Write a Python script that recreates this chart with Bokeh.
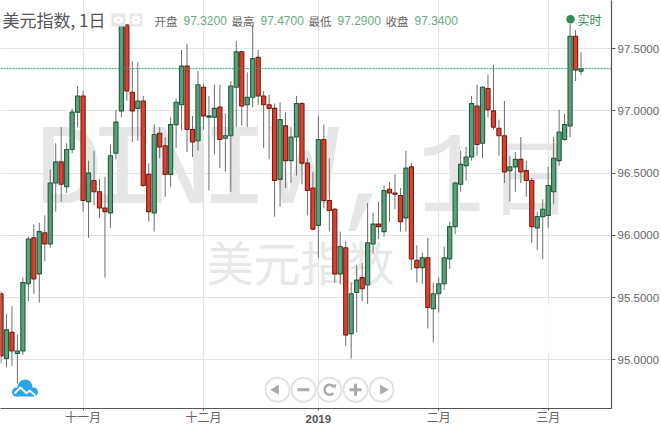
from bokeh.plotting import figure
from bokeh.embed import file_html
from bokeh.resources import INLINE
from bokeh.models import Range1d, FixedTicker, NumeralTickFormatter, Span, LinearAxis
from bokeh.core.properties import value

opens = [95.53,95.01,95.22,95.05,95.07,95.61,95.98,95.69,96.02,95.93,96.42,96.59,96.39,96.69,96.99,97.12,96.27,96.44,96.35,96.22,
         96.18,96.66,97.00,97.69,97.15,97.02,97.08,96.49,96.18,96.82,96.72,96.49,96.89,97.05,97.36,96.85,96.76,97.19,96.95,96.95,
         97.03,96.78,96.80,97.19,97.475,97.05,97.11,97.43,97.12,97.05,97.02,96.45,96.88,96.60,96.79,97.06,96.58,96.38,96.08,96.77,
         96.28,96.21,95.69,95.90,95.21,95.54,95.66,95.60,95.93,96.09,96.03,96.37,96.34,96.32,96.14,96.55,95.80,95.74,95.82,95.41,
         95.53,95.61,95.81,96.07,96.41,96.56,96.63,97.04,96.74,97.18,97.00,96.86,96.80,96.52,96.55,96.61,96.52,96.44,96.06,96.15,
         96.16,96.35,96.60,96.77,96.88,97.60,97.32]
highs = [95.55,95.37,95.43,95.20,95.66,95.99,96.09,96.10,96.16,96.53,96.74,96.87,96.74,97.02,97.20,97.16,96.60,96.68,96.45,96.47,
         96.73,97.01,97.70,97.70,97.40,97.39,97.12,96.58,96.89,96.87,96.79,96.95,97.10,97.49,97.54,96.96,97.32,97.22,97.12,97.21,
         97.21,96.98,97.24,97.56,97.48,97.31,97.69,97.49,97.16,97.13,97.06,97.07,96.99,96.87,97.12,97.07,96.62,96.51,96.96,96.89,
         96.62,96.22,96.03,95.95,95.62,95.76,95.78,96.26,96.18,96.27,96.40,96.43,96.49,96.38,96.68,96.58,95.92,95.86,95.98,95.62,
         95.66,95.91,96.11,96.43,96.68,96.71,97.12,97.21,97.20,97.29,97.37,96.93,97.08,96.64,96.67,96.79,96.60,96.46,96.19,96.29,
         96.55,96.79,97.01,96.98,97.70,97.65,97.47]
lows = [94.97,94.94,94.95,94.81,95.04,95.47,95.53,95.46,95.79,95.90,96.19,96.27,96.34,96.66,96.87,96.19,95.98,96.24,96.14,95.66,
        96.06,96.61,96.95,97.08,96.75,96.76,96.39,96.11,96.03,96.62,96.31,96.39,96.70,96.84,96.67,96.63,96.68,96.85,96.36,96.65,
        96.54,96.51,96.35,96.87,96.88,96.87,97.03,97.05,96.70,96.61,96.15,96.23,96.38,96.42,96.48,96.41,96.16,96.04,95.82,96.22,
        96.03,95.62,95.61,95.11,95.01,95.22,95.47,95.45,95.85,95.97,95.99,96.11,96.21,96.03,96.03,95.72,95.62,95.61,95.25,95.14,
        95.38,95.56,95.73,96.01,96.35,96.44,96.60,96.64,96.62,96.95,96.85,96.64,96.42,96.27,96.35,96.42,96.31,95.94,95.88,95.81,
        96.06,96.25,96.56,96.76,96.79,97.24,97.29]
closes = [95.03,95.24,95.07,95.07,95.62,95.97,95.65,96.03,95.93,96.42,96.59,96.41,96.69,96.99,97.12,96.28,96.50,96.35,96.22,96.19,
          96.64,96.91,97.69,97.16,97.00,97.08,96.40,96.19,96.81,96.71,96.49,96.89,97.07,97.36,96.85,96.75,97.21,96.96,96.96,97.02,
          96.77,96.80,97.20,97.475,97.04,97.11,97.42,97.12,97.05,97.02,96.44,96.93,96.60,96.79,97.06,96.58,96.36,96.05,96.77,96.28,
          96.20,95.69,95.91,95.20,95.53,95.64,95.57,95.94,96.09,96.07,96.36,96.34,96.33,96.11,96.54,95.81,95.74,95.82,95.42,95.53,
          95.61,95.82,96.07,96.42,96.57,96.63,97.06,96.73,97.19,97.01,96.87,96.80,96.51,96.55,96.61,96.51,96.44,96.07,96.15,96.21,
          96.40,96.62,96.83,96.89,97.60,97.33,97.34]

y_ticks = [95.0, 95.5, 96.0, 96.5, 97.0, 97.5]
month_ticks = {15: "十一月", 37: "十二月", 58: " ", 80: "二月", 100: "三月"}
year_tick = {58: "2019"}
last_price = 97.34
title_text = "美元指数, 1日"
header_labels = ["开盘", "最高", "最低", "收盘"]
header_values = ["97.3200", "97.4700", "97.2900", "97.3400"]

GREEN_F, GREEN_L = "#5f9f7c", "#1b5c3d"
RED_F, RED_L = "#d8432f", "#7b1a12"
CJK = "Noto Sans CJK SC"

idx = list(range(len(opens)))
fills = [GREEN_F if c >= o else RED_F for o, c in zip(opens, closes)]
lines = [GREEN_L if c >= o else RED_L for o, c in zip(opens, closes)]

p = figure(width=661, height=425, frame_width=611, frame_height=408,
           x_range=Range1d(-0.0914, 111.57), y_range=Range1d(94.6078, 97.8875),
           y_axis_location="right", output_backend="svg", toolbar_location=None,
           min_border=0, min_border_right=50, min_border_bottom=17,
           background_fill_color="white", border_fill_color="white")
p.margin = (0, 0, 0, 0)
p.outline_line_color = None
p.extra_x_ranges["px"] = Range1d(0, 611)
p.extra_y_ranges["px"] = Range1d(408, 0)
PX = dict(x_range_name="px", y_range_name="px")

# axes
p.xaxis.ticker = FixedTicker(ticks=list(month_ticks))
p.xaxis.major_label_overrides = month_ticks
p.yaxis.ticker = FixedTicker(ticks=y_ticks)
p.yaxis.formatter = NumeralTickFormatter(format="0.0000")
for ax in (p.xaxis[0], p.yaxis[0]):
    ax.axis_line_color = "#555555"
    ax.axis_line_width = 1.2
    ax.major_tick_line_color = "#555555"
    ax.minor_tick_line_color = None
    ax.major_tick_in = 0
    ax.major_label_text_color = "#666666"
    ax.major_label_text_font_size = "11.5px"
    ax.major_label_text_font = "Liberation Sans"
p.xaxis.major_tick_out = 2
p.yaxis.major_tick_out = 4
p.xaxis.major_label_standoff = -3
p.xaxis.major_label_text_font = CJK
p.xaxis.major_label_text_font_size = "12px"
p.yaxis.major_label_standoff = 2
year_axis = LinearAxis(ticker=FixedTicker(ticks=list(year_tick)), major_label_overrides=year_tick,
                       axis_line_color=None, major_tick_line_color=None, minor_tick_line_color=None,
                       major_tick_out=0, major_tick_in=0, major_label_standoff=-13,
                       major_label_text_font="Liberation Sans", major_label_text_font_style="bold",
                       major_label_text_font_size="11.5px", major_label_text_color="#555555")
p.add_layout(year_axis, "below")
p.grid.grid_line_color = "#e3e3e3"
p.grid.grid_line_width = 1.2

# watermarks
wm_chars = ["D", "I", "N", "I", "W", ","]
wm_x = [68, 122, 177, 234, 304, 368]
p.text(x=wm_x, y=[172] * len(wm_chars), text=wm_chars, text_font=value("Liberation Mono"),
       text_font_size="115px", text_color="#e6e6e6", text_align="center", text_baseline="middle", **PX)
p.text(x=[450], y=[172], text=["1"], text_font=value("Liberation Mono"), text_font_size="115px",
       text_color="#e6e6e6", text_align="center", text_baseline="middle", **PX)
p.text(x=[530], y=[172], text=["日"], text_font=value(CJK), text_font_size="84px",
       text_color="#e6e6e6", text_align="center", text_baseline="middle", **PX)
p.text(x=[300], y=[260], text=["美元指数"], text_font=value(CJK), text_font_size="47px",
       text_color="#e8e8e8", text_align="center", text_baseline="middle", **PX)

# gap seen in the March gridline
p.segment([547.5], [303], [547.5], [353], line_color="white", line_width=3, **PX)

# candles
bottoms = [min(o, c) for o, c in zip(opens, closes)]
tops = [max(o, c) for o, c in zip(opens, closes)]
p.segment(idx, highs, idx, lows, line_color="#6e6e6e", line_width=1)
p.vbar(x=idx, width=0.76, bottom=bottoms, top=tops, fill_color=fills, line_color=lines, line_width=1.1)

# last price
p.add_layout(Span(location=last_price, dimension="width", line_color="#3f9a6d", line_width=1, line_dash="2 1"))

# header
p.text(x=[2], y=[19], text=[title_text], text_font=value(CJK), text_font_size="17px",
       text_color="#555555", text_baseline="middle", **PX)
p.text(x=[154, 231, 308, 385], y=[20] * 4, text=header_labels, text_font=value(CJK), text_font_size="11.5px",
       text_color="#666666", text_baseline="middle", **PX)
p.text(x=[183, 260, 337, 414], y=[20] * 4, text=header_values, text_font=value("Liberation Sans"),
       text_font_size="12px", text_color="#6aa987", text_baseline="middle", **PX)

# eye / gear icons
p.quad(left=[111, 129], right=[125, 142], top=[13, 13], bottom=[26, 26], fill_color="#e6e6e6", line_color=None, **PX)
p.ellipse(x=[118], y=[19.5], width=10, height=7, fill_color="white", line_color=None, **PX)
p.scatter(x=[118], y=[19.5], size=3, marker="circle", fill_color="#e6e6e6", line_color=None, **PX)
p.scatter(x=[135.5], y=[19.5], size=10, marker="asterisk", line_color="white", line_width=2, **PX)
p.scatter(x=[135.5], y=[19.5], size=7, marker="circle", fill_color="white", line_color=None, **PX)
p.scatter(x=[135.5], y=[19.5], size=3, marker="circle", fill_color="#e6e6e6", line_color=None, **PX)

# realtime marker
p.scatter(x=[570], y=[18.7], size=8.5, marker="circle", fill_color="#2e8b57", line_color=None, **PX)
p.text(x=[577], y=[19], text=["实时"], text_font=value(CJK), text_font_size="12px", text_color="#2e8b57",
       text_baseline="middle", **PX)

# cloud logo
LOGO = "#29a5e8"
p.scatter(x=[16, 24.5, 33], y=[391.5, 386.5, 391.5], size=[9, 15, 9], marker="circle", fill_color=LOGO, line_color=None, **PX)
p.quad(left=[16], right=[33], top=[388], bottom=[396], fill_color=LOGO, line_color=None, **PX)
p.line(x=[14, 20, 26, 29, 35], y=[393, 387, 393, 390, 395], line_color="white", line_width=1.8, **PX)

# navigation buttons
btn_x = [277, 303, 329, 355, 381]
p.scatter(x=btn_x, y=[389.3] * 5, size=24, marker="circle", fill_color="white", fill_alpha=0.9,
          line_color="#e2e2e2", line_width=2, **PX)
ICON = "#aaaaaa"
p.scatter(x=[275.5], y=[389.3], size=10, marker="triangle", angle=1.5708, fill_color=ICON, line_color=None, **PX)
p.scatter(x=[382.5], y=[389.3], size=10, marker="triangle", angle=-1.5708, fill_color=ICON, line_color=None, **PX)
p.scatter(x=[303], y=[389.3], size=12, marker="dash", line_color=ICON, line_width=3, **PX)
p.scatter(x=[355], y=[389.3], size=12, marker="cross", line_color=ICON, line_width=3, **PX)
p.arc(x=[329], y=[389.3], radius=5, start_angle=0.6, end_angle=5.6, line_color=ICON, line_width=2.5, **PX)
p.scatter(x=[334], y=[385.5], size=5, marker="triangle", angle=3.4, fill_color=ICON, line_color=None, **PX)

open("out.html", "w").write(file_html(p, INLINE))
